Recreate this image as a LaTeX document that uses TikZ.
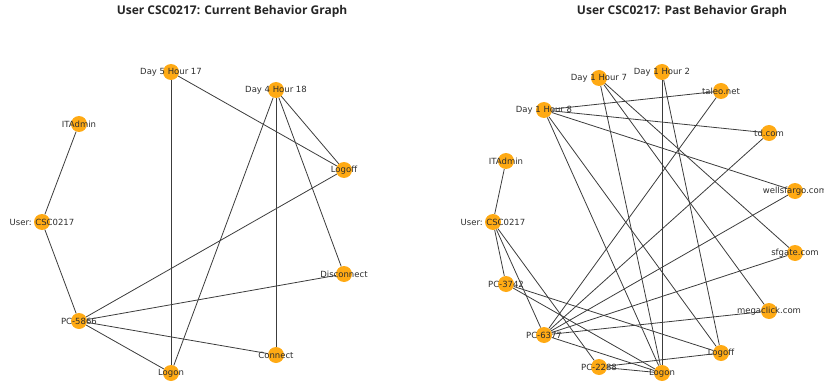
\documentclass[tikz,border=0pt]{standalone}
\usepackage{fontspec}
\setmainfont{DejaVu Sans}
\newfontfamily\titlefont{Open Sans}
\definecolor{vorange}{RGB}{255,170,20}
\definecolor{edgegray}{RGB}{60,60,60}
\definecolor{labelgray}{RGB}{45,45,45}

\begin{document}
\begin{tikzpicture}[x=1pt,y=-1pt]
  \tikzstyle{vtx}=[circle,fill=vorange,minimum size=16pt,inner sep=0pt]
  \tikzstyle{lbl}=[font=\fontsize{8.5}{9}\selectfont,text=labelgray,inner sep=0pt]
  \tikzstyle{ttl}=[font=\titlefont\bfseries\fontsize{12}{14}\selectfont,text=black!85]
  \tikzstyle{every edge}=[draw=edgegray,line width=0.8pt]

  \useasboundingbox (0,0) rectangle (824,385);

  % current behavior
  \node[ttl] (ttlcur) at (232,11) {User CSC0217: Current Behavior Graph};

  \node[vtx,label={[lbl]center:Day 5 Hour 17}] (dfive)  at (171,72)  {};
  \node[vtx,label={[lbl]center:Day 4 Hour 18}] (dfour)  at (276,90)  {};
  \node[vtx,label={[lbl]center:ITAdmin}]       (itadm)  at (79,124)  {};
  \node[vtx,label={[lbl]center:Logoff}]        (loff)   at (344,170) {};
  \node[vtx,label={[lbl]center:User: CSC0217}] (usr)    at (42,222)  {};
  \node[vtx,label={[lbl]center:Disconnect}]    (disc)   at (344,274) {};
  \node[vtx,label={[lbl]center:PC-5866}]       (pcfive) at (79,321)  {};
  \node[vtx,label={[lbl]center:Connect}]       (conn)   at (276,355) {};
  \node[vtx,label={[lbl]center:Logon}]         (lon)    at (171,373) {};

  \path
  (itadm)  edge (usr)
  (usr)    edge (pcfive)
  (dfive)  edge (lon)
           edge (loff)
  (dfour)  edge (loff)
           edge (lon)
           edge (conn)
           edge (disc)
  (pcfive) edge (loff)
           edge (disc)
           edge (conn)
           edge (lon);

  % past behavior
  \node[ttl] (ttlpast) at (682,11) {User CSC0217: Past Behavior Graph};

  \node[vtx,label={[lbl]center:Day 1 Hour 7}]  (dsev)    at (599,78)  {};
  \node[vtx,label={[lbl]center:Day 1 Hour 2}]  (dtwo)    at (662,72)  {};
  \node[vtx,label={[lbl]center:taleo.net}]     (taleo)   at (721,91)  {};
  \node[vtx,label={[lbl]center:Day 1 Hour 8}]  (deight)  at (544,110) {};
  \node[vtx,label={[lbl]center:td.com}]        (td)      at (769,133) {};
  \node[vtx,label={[lbl]center:ITAdmin}]       (itadmp)  at (506,161) {};
  \node[vtx,label={[lbl]center:wellsfargo.com}] (wells)  at (795,191) {};
  \node[vtx,label={[lbl]center:User: CSC0217}] (usrp)    at (493,222) {};
  \node[vtx,label={[lbl]center:sfgate.com}]    (sfgate)  at (795,253) {};
  \node[vtx,label={[lbl]center:PC-3742}]       (pcthree) at (506,284) {};
  \node[vtx,label={[lbl]center:megaclick.com}] (mega)    at (769,311) {};
  \node[vtx,label={[lbl]center:PC-6377}]       (pcsix)   at (544,335) {};
  \node[vtx,label={[lbl]center:Logoff}]        (loffp)   at (721,353) {};
  \node[vtx,label={[lbl]center:PC-2288}]       (pctwo)   at (599,367) {};
  \node[vtx,label={[lbl]center:Logon}]         (lonp)    at (662,373) {};

  \path
  (itadmp)  edge (usrp)
  (usrp)    edge (pcthree)
            edge (pcsix)
            edge (pctwo)
  (deight)  edge (taleo)
            edge (td)
            edge (wells)
            edge (lonp)
            edge (loffp)
  (dsev)    edge (lonp)
            edge (mega)
            edge (sfgate)
  (dtwo)    edge (lonp)
            edge (loffp)
  (pcsix)   edge (taleo)
            edge (td)
            edge (wells)
            edge (sfgate)
            edge (mega)
            edge (lonp)
  (pcthree) edge (loffp)
            edge (lonp)
  (pctwo)   edge (loffp)
            edge (lonp);
\end{tikzpicture}
\end{document}
